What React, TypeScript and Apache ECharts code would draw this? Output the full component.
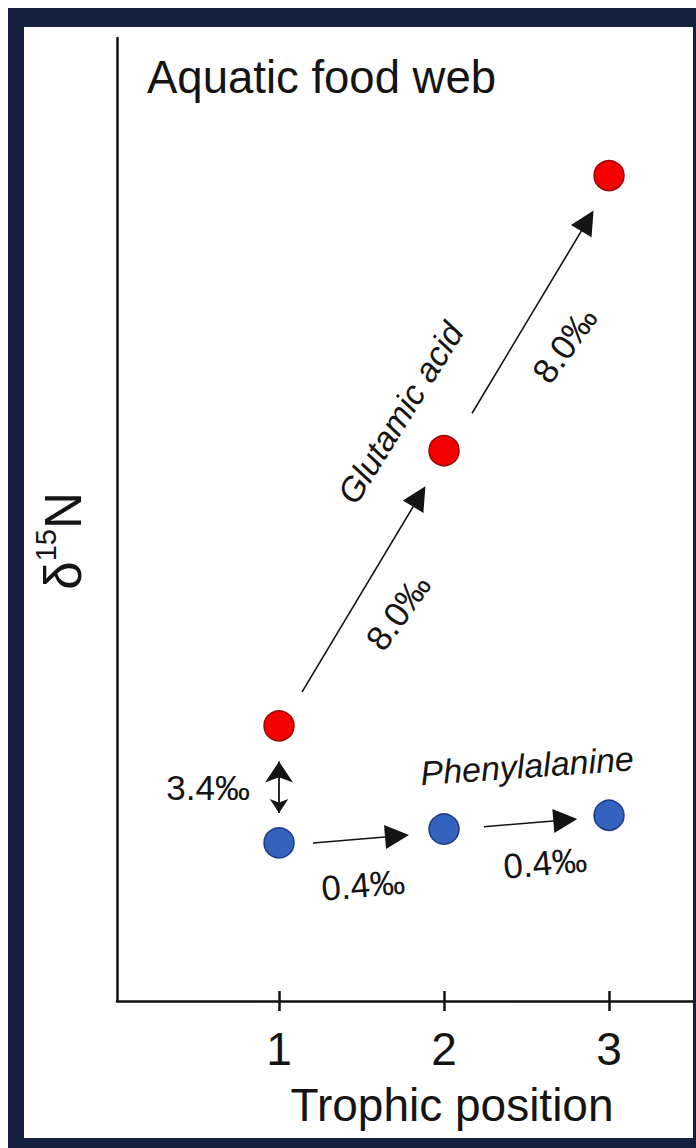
import React, { useEffect, useRef } from "react";
import * as echarts from "echarts";

// ---- data ----
const trophicPositions = [1, 2, 3];
const tickLabels = ["1", "2", "3"];
const glutamicAcid = [8.0, 16.0, 24.0]; // δ15N, ‰ (arbitrary baseline)
const phenylalanine = [4.6, 5.0, 5.4];
const gluSteps = ["8.0‰", "8.0‰"];
const pheSteps = ["0.4‰", "0.4‰"];
const offsetLabel = "3.4‰";

const FONT = "'Liberation Sans', Arial, sans-serif";
const INK = "#141414";
const NAVY = "#13213e";

type Arrow = { a: number[]; b: number[]; t0: number; t1: number; dy: number };

function pt(values: number[], i: number) {
  return [trophicPositions[i], values[i]];
}
function along(a: number[], b: number[], t: number, dy: number) {
  return [a[0] + (b[0] - a[0]) * t, a[1] + (b[1] - a[1]) * t + dy];
}

export default function App() {
  const ref = useRef<HTMLDivElement>(null);

  useEffect(() => {
    const chart = echarts.init(ref.current!, null, { renderer: "svg" });

    const stepArrows: Arrow[] = [
      { a: pt(glutamicAcid, 0), b: pt(glutamicAcid, 1), t0: 0.139, t1: 0.85, dy: -0.13 },
      { a: pt(glutamicAcid, 1), b: pt(glutamicAcid, 2), t0: 0.17, t1: 0.869, dy: -0.27 },
      { a: pt(phenylalanine, 0), b: pt(phenylalanine, 1), t0: 0.206, t1: 0.715, dy: -0.09 },
      { a: pt(phenylalanine, 1), b: pt(phenylalanine, 2), t0: 0.242, t1: 0.735, dy: -0.03 },
    ];
    const offsetArrow: Arrow = {
      a: pt(phenylalanine, 0),
      b: pt(glutamicAcid, 0),
      t0: 0.255,
      t1: 0.695,
      dy: 0,
    };
    const toLine = (r: Arrow) => ({
      coords: [along(r.a, r.b, r.t0, r.dy), along(r.a, r.b, r.t1, r.dy)],
    });

    const numLabel = { fontSize: 35, color: INK, fontFamily: FONT, opacity: 1 };
    const italicLabel = { fontSize: 34, color: INK, fontFamily: FONT, fontStyle: "italic", opacity: 1 };
    const annotations = [
      { value: [1.735, 17.1], label: { ...italicLabel, formatter: "Glutamic acid", rotate: 58 } },
      { value: [1.721, 11.31], label: { ...numLabel, formatter: gluSteps[0], rotate: 54 } },
      { value: [2.73, 19.08], label: { ...numLabel, formatter: gluSteps[1], rotate: 54 } },
      { value: [0.57, 6.22], label: { ...numLabel, formatter: offsetLabel, rotate: 0 } },
      { value: [1.509, 3.38], label: { ...numLabel, formatter: pheSteps[0], rotate: 5 } },
      { value: [2.612, 4.02], label: { ...numLabel, formatter: pheSteps[1], rotate: 5 } },
      { value: [2.503, 6.84], label: { ...italicLabel, formatter: "Phenylalanine", rotate: 4 } },
    ];

    const xMin = 0.018;
    const xMax = 3.509;

    chart.setOption({
      animation: false,
      title: {
        text: "Aquatic food web",
        left: 147,
        top: 54,
        padding: 0,
        textStyle: { fontSize: 45.5, fontWeight: "normal", color: INK, fontFamily: FONT },
      },
      grid: { left: 117, right: 3, top: 38, bottom: 147, containLabel: false },
      xAxis: [
        {
          type: "value",
          min: xMin,
          max: xMax,
          position: "bottom",
          axisLine: { show: true, lineStyle: { color: "#111", width: 2.5 } },
          axisTick: {
            show: true,
            inside: false,
            length: 10,
            customValues: trophicPositions,
            lineStyle: { color: "#111", width: 2.5 },
          },
          axisLabel: {
            show: true,
            customValues: trophicPositions,
            margin: 25,
            fontSize: 46,
            color: INK,
            fontFamily: FONT,
            formatter: (v: number) => tickLabels[trophicPositions.indexOf(v)] ?? "",
          },
          splitLine: { show: false },
        },
        {
          type: "value",
          min: xMin,
          max: xMax,
          position: "bottom",
          axisLine: { show: false },
          axisTick: {
            show: true,
            inside: true,
            length: 10,
            customValues: trophicPositions,
            lineStyle: { color: "#111", width: 2.5 },
          },
          axisLabel: { show: false },
          splitLine: { show: false },
        },
      ],
      yAxis: {
        type: "value",
        min: 0,
        max: 28,
        axisLine: { show: true, lineStyle: { color: "#111", width: 2.5 } },
        axisTick: { show: false },
        axisLabel: { show: false },
        splitLine: { show: false },
      },
      graphic: [
        {
          type: "text",
          x: 452,
          y: 1105,
          style: {
            text: "Trophic position",
            fontSize: 46,
            fontFamily: FONT,
            fill: INK,
            align: "center",
            verticalAlign: "middle",
          },
        },
        {
          type: "text",
          x: 63,
          y: 541,
          rotation: Math.PI / 2,
          style: {
            text: "{a|δ}{b|15}{a|N}",
            align: "center",
            verticalAlign: "middle",
            fill: INK,
            rich: {
              a: { fontSize: 51, fontFamily: FONT, fill: INK },
              b: { fontSize: 29, fontFamily: FONT, fill: INK, padding: [0, 0, 35, 0] },
            },
          },
        },
      ],
      series: [
        {
          name: "step arrows",
          type: "lines",
          coordinateSystem: "cartesian2d",
          xAxisIndex: 0,
          yAxisIndex: 0,
          symbol: ["none", "triangle"],
          symbolSize: [19, 24],
          lineStyle: { color: INK, width: 1.6, opacity: 1 },
          itemStyle: { color: INK },
          data: stepArrows.map(toLine),
          silent: true,
          z: 1,
        },
        {
          name: "offset arrow",
          type: "lines",
          coordinateSystem: "cartesian2d",
          xAxisIndex: 0,
          yAxisIndex: 0,
          symbol: ["arrow", "arrow"],
          symbolSize: [14, 21],
          lineStyle: { color: INK, width: 1.8, opacity: 1 },
          data: [toLine(offsetArrow)],
          silent: true,
          z: 1,
        },
        {
          name: "Glutamic acid",
          type: "scatter",
          xAxisIndex: 0,
          symbol: "circle",
          symbolSize: 30,
          itemStyle: { color: "#f50000", borderColor: "#960808", borderWidth: 1.5, opacity: 1 },
          data: trophicPositions.map((x, i) => [x, glutamicAcid[i]]),
          z: 3,
        },
        {
          name: "Phenylalanine",
          type: "scatter",
          xAxisIndex: 0,
          symbol: "circle",
          symbolSize: 30,
          itemStyle: { color: "#3561bf", borderColor: "#1f3b82", borderWidth: 1.5, opacity: 1 },
          data: trophicPositions.map((x, i) => [x, phenylalanine[i]]),
          z: 3,
        },
        {
          name: "annotations",
          type: "scatter",
          xAxisIndex: 0,
          symbol: "circle",
          symbolSize: 1,
          itemStyle: { color: "rgba(0,0,0,0)", opacity: 1 },
          label: { show: true, position: "inside", opacity: 1 },
          data: annotations,
          silent: true,
          z: 4,
        },
      ],
    });

    return () => chart.dispose();
  }, []);

  return (
    <div
      style={{
        position: "absolute",
        left: 0,
        top: 0,
        width: 696,
        height: 1148,
        background: "#fff",
        overflow: "hidden",
      }}
    >
      <div style={{ position: "absolute", left: 8, top: 8, width: 688, height: 1140, background: NAVY }} />
      <div style={{ position: "absolute", left: 24, top: 27, width: 669, height: 1111, background: "#fff" }} />
      <div ref={ref} style={{ position: "absolute", left: 0, top: 0, width: 696, height: 1148 }} />
    </div>
  );
}
